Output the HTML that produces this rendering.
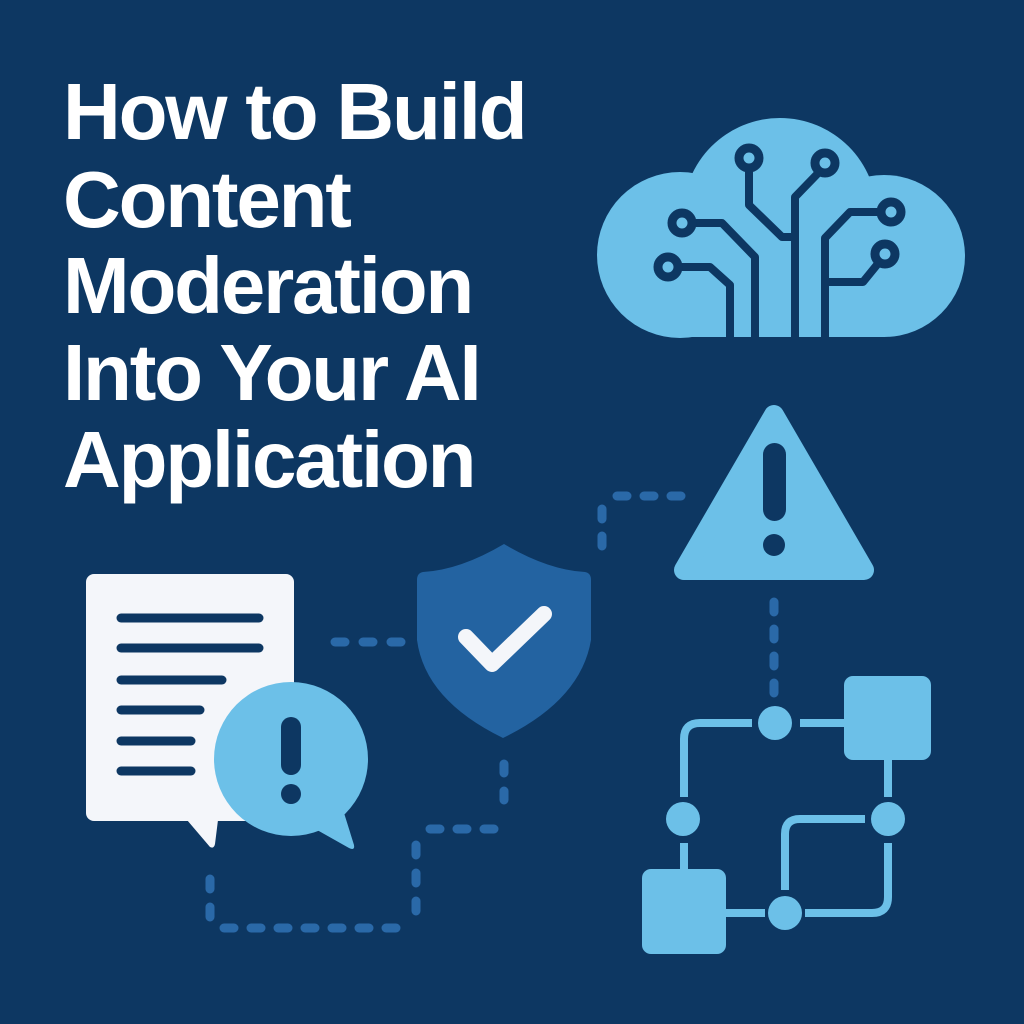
<!DOCTYPE html>
<html><head><meta charset="utf-8"><style>
html,body{margin:0;padding:0;background:#0d3762;}
.t{position:absolute;left:63px;color:#fff;font-family:"Liberation Sans",sans-serif;font-weight:bold;font-size:80px;letter-spacing:-2.2px;line-height:1;white-space:nowrap;}
</style></head><body>
<div style="position:relative;width:1024px;height:1024px;overflow:hidden;background:#0d3762;">
<svg width="1024" height="1024" style="position:absolute;left:0;top:0">
<g stroke="#2a69a8" stroke-width="9" stroke-linecap="round" fill="none">
<path d="M617 496 H683" stroke-dasharray="10 17"/>
<path d="M602 509 V546" stroke-dasharray="10 17"/>
<path d="M335 642 H404" stroke-dasharray="10 18"/>
<path d="M774 602 V700" stroke-dasharray="10 17"/>
<path d="M504 764 V818" stroke-dasharray="9 18"/>
<path d="M430 829 H495" stroke-dasharray="10 17"/>
<path d="M416 845 V925" stroke-dasharray="10 18"/>
<path d="M224 928 H412" stroke-dasharray="10 17"/>
<path d="M210 879 V925" stroke-dasharray="10 18"/>
</g>
<g fill="#6cc0e8">
<circle cx="780" cy="215" r="97"/>
<circle cx="680" cy="255" r="83"/>
<circle cx="884" cy="256" r="81"/>
<rect x="680" y="200" width="205" height="137"/>
</g>
<g stroke="#0d3762" stroke-width="8" fill="none" stroke-linejoin="round">
<path d="M795 340 V197 L825 166"/>
<path d="M749 159 V205 L782 237 H795"/>
<path d="M682 223 H722 L755 257 V340"/>
<path d="M668 267 H710 L730 285 V340"/>
<path d="M891 212 H850 L825 238 V340"/>
<path d="M885 255 L863 282 H825"/>
</g>
<g fill="#6cc0e8" stroke="#0d3762" stroke-width="9">
<circle cx="825" cy="163" r="10"/>
<circle cx="749" cy="158" r="10"/>
<circle cx="682" cy="223" r="10"/>
<circle cx="668" cy="267" r="10"/>
<circle cx="891" cy="212" r="10"/>
<circle cx="885" cy="254" r="10"/>
</g>
<path d="M774 415 L864 570 L684 570 Z" fill="#6cc0e8" stroke="#6cc0e8" stroke-width="20" stroke-linejoin="round"/>
<rect x="763" y="443" width="23" height="78" rx="11.5" fill="#0d3762"/>
<circle cx="774" cy="545" r="11" fill="#0d3762"/>
<g stroke="#6cc0e8" stroke-width="8" fill="none">
<path d="M752 723 H700 Q684 723 684 739 V797"/>
<path d="M684 843 V872"/>
<path d="M726 913 H765"/>
<path d="M800 723 H846"/>
<path d="M888 758 V797"/>
<path d="M865 819 H800 Q785 819 785 834 V890"/>
<path d="M805 913 H872 Q888 913 888 897 V843"/>
</g>
<g fill="#6cc0e8">
<circle cx="775" cy="723" r="17"/>
<circle cx="683" cy="819" r="17"/>
<circle cx="888" cy="819" r="17"/>
<circle cx="785" cy="913" r="17"/>
<rect x="844" y="676" width="87" height="84" rx="9"/>
<rect x="642" y="869" width="84" height="85" rx="9"/>
</g>
<path d="M504 544 Q460 570 423 572 Q417 573 417 580 V640 Q425 700 503 738 Q581 700 591 640 V580 Q591 573 585 572 Q548 570 504 544 Z" fill="#2363a1"/>
<path d="M466 637 L492 664 L544 614" stroke="#f4f6fa" stroke-width="16" stroke-linecap="round" stroke-linejoin="round" fill="none"/>
<rect x="86" y="574" width="208" height="247" rx="8" fill="#f4f6fa"/>
<path d="M187 820 L210 847 Q214 849 215 844 L218 820 Z" fill="#f4f6fa"/>
<g stroke="#0d3762" stroke-width="9" stroke-linecap="round">
<path d="M121 618 H259"/><path d="M121 648 H259"/><path d="M121 680 H222"/>
<path d="M121 710 H200"/><path d="M121 741 H191"/><path d="M121 771 H191"/>
</g>
<circle cx="291" cy="759" r="77" fill="#6cc0e8"/>
<path d="M340 800 L354 845 Q355 851 349 848 L310 826 Z" fill="#6cc0e8"/>
<rect x="281" y="717" width="20" height="58" rx="10" fill="#0d3762"/>
<circle cx="291" cy="794" r="10" fill="#0d3762"/>
</svg>
<div class="t" style="top:72px">How to Build</div>
<div class="t" style="top:160px">Content</div>
<div class="t" style="top:246px">Moderation</div>
<div class="t" style="top:333px">Into Your AI</div>
<div class="t" style="top:420px">Application</div>
</div>
</body></html>
